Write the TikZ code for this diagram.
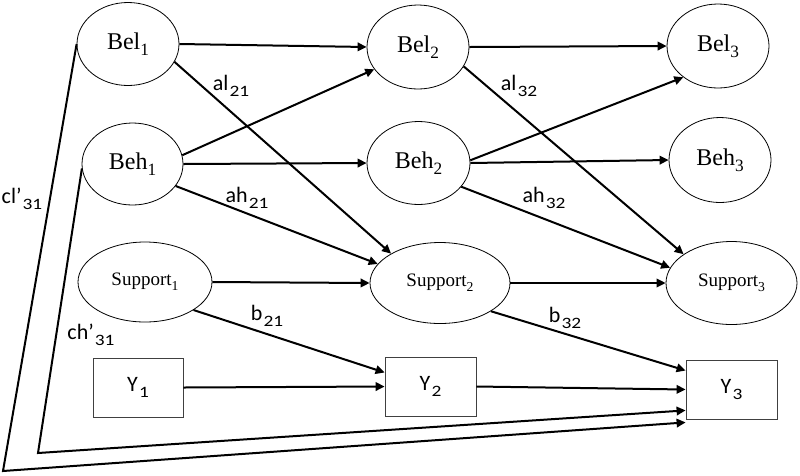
\documentclass[tikz,border=0pt]{standalone}
\usepackage{fontspec}
\usepackage{graphicx}
\setmainfont{Liberation Serif}
\newfontfamily\calfont{Carlito}
\newcommand\sbx[1]{\raisebox{-0.27em}{\scalebox{0.72}{#1}}}
\newcommand\sbw[1]{\hspace{0.05em}\raisebox{-0.25em}{\scalebox{0.88}[0.72]{#1}}}
\usetikzlibrary{shapes.geometric,arrows.meta}
\begin{document}
\begin{tikzpicture}[x=1pt,y=-1pt,
  lat/.style={ellipse,draw,line width=0.8pt,inner sep=0pt,font=\fontsize{24}{28}\selectfont},
  sup/.style={ellipse,draw,line width=0.8pt,inner sep=0pt,font=\fontsize{19}{22}\selectfont},
  obs/.style={rectangle,draw=black!75,line width=0.8pt,minimum width=90pt,minimum height=59pt,inner sep=0pt,font=\calfont\fontsize{22}{26}\selectfont},
  arr/.style={line width=2pt,-{Triangle[length=9pt,width=8.5pt]}},
  lab/.style={font=\calfont\fontsize{22}{26}\selectfont,inner sep=0pt}]
\useasboundingbox (0,0) rectangle (800,475);
% latent nodes
\node[lat,minimum width=102pt,minimum height=83pt] (Bel1) at (128,44) {Bel\sbx{1}};
\node[lat,minimum width=101pt,minimum height=82pt] (Beh1) at (132.5,164) {Beh\sbx{1}};
\node[lat,minimum width=102pt,minimum height=84pt] (Bel2) at (418,47) {Bel\sbx{2}};
\node[lat,minimum width=103pt,minimum height=83pt] (Beh2) at (418.5,163) {Beh\sbx{2}};
\node[lat,minimum width=102pt,minimum height=84pt] (Bel3) at (718,46) {Bel\sbx{3}};
\node[lat,minimum width=102pt,minimum height=85pt] (Beh3) at (720,160) {Beh\sbx{3}};
\node[sup,minimum width=134pt,minimum height=80pt] (Support1) at (145,282) {Support\sbx{1}};
\node[sup,minimum width=140pt,minimum height=81pt] (Support2) at (440,283) {Support\sbx{2}};
\node[sup,minimum width=131pt,minimum height=83pt] (Support3) at (731.5,283) {Support\sbx{3}};
% observed nodes
\node[obs] (Y1) at (138,387.5) {Y\sbw{1}};
\node[obs,minimum width=91pt] (Y2) at (430.5,386.5) {Y\sbw{2}};
\node[obs,minimum width=91pt] (Y3) at (731.5,389.5) {Y\sbw{3}};
% connectors
\draw[arr] (Bel1.east) -- (Bel2.west);
\draw[arr] (Bel1.-21) -- (Support2.149);
\draw[arr] (Beh1.10) -- (Bel2.-153);
\draw[arr] (Beh1.east) -- (Beh2.west);
\draw[arr] (Beh1.-27) -- (Support2.163);
\draw[arr] (Support1.east) -- (Support2.west);
\draw[arr] (Support1.-30) -- ([yshift=14pt]Y2.west);
\draw[arr] (Y1.east) -- (Y2.west);
\draw[arr] (Bel2.east) -- (Bel3.west);
\draw[arr] (Bel2.-23) -- (Support3.149);
\draw[arr] (Beh2.3) -- (Bel3.-138);
\draw[arr] (Beh2.east) -- (Beh3.west);
\draw[arr] (Beh2.-29) -- (Support3.166);
\draw[arr] (Support2.east) -- (Support3.west);
\draw[arr] (Support2.-29) -- ([yshift=19pt]Y3.west);
\draw[arr] (Y2.east) -- (Y3.west);
\coordinate (c1) at (3,471);
\coordinate (c2) at (38,453);
\draw[arr] (Bel1.west) -- (c1) -- ([yshift=-3pt]Y3.south west);
\draw[arr] (Beh1.185) -- (c2) -- ([yshift=9pt]Y3.south west);
% labels
\node[lab] (lal21) at (231,86) {al\sbw{21}};
\node[lab] (lah21) at (247,198) {ah\sbw{21}};
\node[lab] (lal32) at (519,86) {al\sbw{32}};
\node[lab] (lah32) at (544,198) {ah\sbw{32}};
\node[lab] (lb21) at (267,316) {b\sbw{21}};
\node[lab] (lb32) at (565,318) {b\sbw{32}};
\node[lab] (lcl) at (22,199) {cl’\sbw{31}};
\node[lab] (lch) at (91,335) {ch’\sbw{31}};
\end{tikzpicture}
\end{document}
